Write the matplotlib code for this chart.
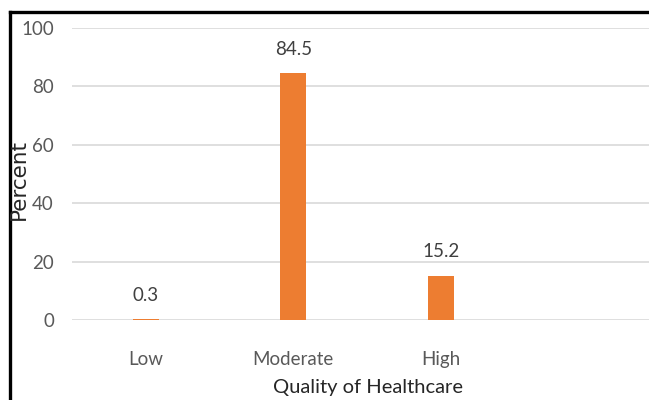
import matplotlib.pyplot as plt
from matplotlib.lines import Line2D

categories = ["Low", "Moderate", "High"]
percent = [0.3, 84.5, 15.2]
y_ticks = [0, 20, 40, 60, 80, 100]

BAR_COLOR = "#ED7D31"
TEXT_COLOR = "#595959"
NARROW = ["Lato", "DejaVu Sans"]

fig = plt.figure(figsize=(6.49, 4.0), dpi=100)
ax = fig.add_axes([72 / 649, 0.2, 1 - 72 / 649, 0.73])

x = list(range(len(categories)))
bars = ax.bar(x, percent, width=0.176, color=BAR_COLOR, zorder=3)

# value labels above bars
for rect, val in zip(bars, percent):
    ax.annotate(f"{val}", (rect.get_x() + rect.get_width() / 2, rect.get_height()),
                xytext=(0, 11), textcoords="offset points", ha="center", va="bottom",
                fontsize=13.5, color="#404040", family=NARROW)

ax.set_xlim(-0.5, 3.41)
ax.set_ylim(0, 100)
ax.set_yticks(y_ticks)
ax.set_xticks(x)
ax.set_xticklabels(categories)
ax.yaxis.grid(True, color="#D9D9D9", linewidth=1.2, zorder=0)
ax.tick_params(axis="both", length=0, labelsize=13.5, labelcolor=TEXT_COLOR)
ax.tick_params(axis="y", pad=13)
ax.tick_params(axis="x", pad=22)
for lbl in ax.get_xticklabels() + ax.get_yticklabels():
    lbl.set_family(NARROW)
for s in ax.spines.values():
    s.set_visible(False)

fig.text(368 / 649, 1 - 387 / 400, "Quality of Healthcare", ha="center", va="center",
         fontsize=14.5, color="#262626", family=NARROW)
fig.text(19 / 649, 1 - 180 / 400, "Percent", rotation=90, ha="center", va="center",
         fontsize=15.5, color="#262626")

# cropped frame: only top and left edges visible
fig.add_artist(Line2D([10 / 649, 10 / 649], [0, 1 - 12 / 400], color="black", linewidth=2.4))
fig.add_artist(Line2D([10 / 649, 1], [1 - 12 / 400, 1 - 12 / 400], color="black", linewidth=2.4))

fig.savefig("out.png", dpi=100)
